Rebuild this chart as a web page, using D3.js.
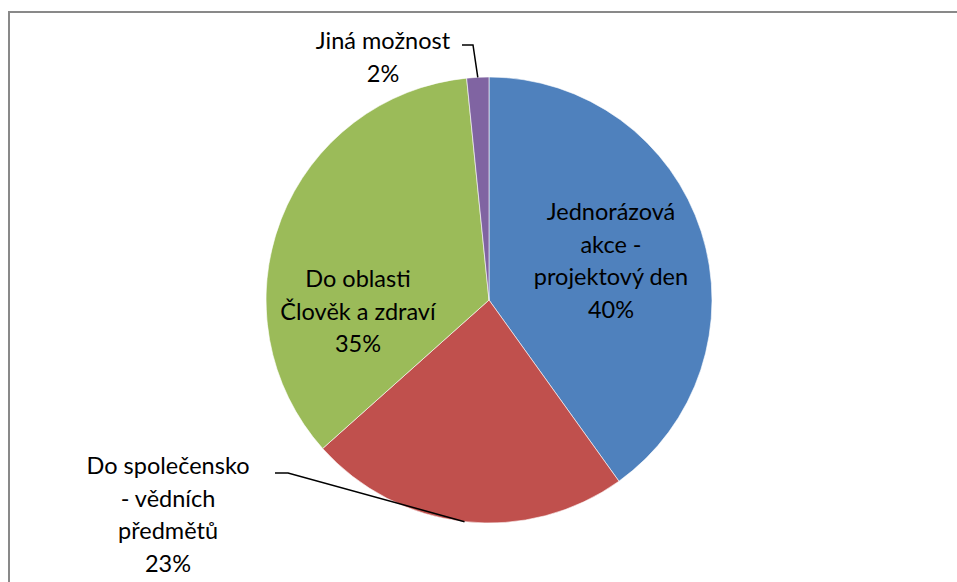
<!DOCTYPE html>
<html>
<head>
<meta charset="utf-8">
<script src="https://cdn.jsdelivr.net/npm/d3@7"></script>
<style>
  html, body { margin: 0; padding: 0; background: #fff; }
  svg { display: block; }
</style>
</head>
<body>
<div id="chart"></div>
<script>
// ── Data ─────────────────────────────────────────────────────────────────────
const categories = [
  ["Jednorázová", "akce -", "projektový den"],
  ["Do společensko", "- vědních", "předmětů"],
  ["Do oblasti", "Člověk a zdraví"],
  ["Jiná možnost"]
];
const values = [40.1, 23.3, 35.0, 1.6];
const colors = ["#4f81bd", "#c0504d", "#9bbb59", "#8064a2"];

// ── Layout ───────────────────────────────────────────────────────────────────
const width = 957, height = 582;
const cx = 489, cy = 300, radius = 223;
const lineH = 32.5;
const fontFamily = "Lato, 'Open Sans', sans-serif";
const fontSize = "23.5px";

// label block anchors (centre x, centre y of first line) and leader bends
const labelLayout = [
  { x: 611, y: 212 },
  { x: 168, y: 466, leader: [[275, 473], [288, 473]] },
  { x: 358, y: 279 },
  { x: 383, y: 41, leader: [[462, 45], [473, 45]] }
];

const svg = d3.select("#chart").append("svg")
  .attr("width", width).attr("height", height);

// frame
svg.append("rect")
  .attr("x", 9).attr("y", 12)
  .attr("width", 960).attr("height", 600)
  .attr("fill", "none").attr("stroke", "#898989").attr("stroke-width", 2);

const total = d3.sum(values);
const pie = d3.pie().sort(null).value((d) => d)(values);
const arc = d3.arc().innerRadius(0).outerRadius(radius);

const g = svg.append("g").attr("transform", `translate(${cx},${cy})`);

g.selectAll("path.slice")
  .data(pie)
  .join("path")
  .attr("class", "slice")
  .attr("d", arc)
  .attr("fill", (d, i) => colors[i])
  .attr("stroke", "#fff")
  .attr("stroke-width", 0.6);

// leader lines
pie.forEach((d, i) => {
  const lay = labelLayout[i];
  if (!lay.leader) return;
  const mid = (d.startAngle + d.endAngle) / 2;
  const end = [cx + radius * Math.sin(mid), cy - radius * Math.cos(mid)];
  const pts = [...lay.leader, end];
  svg.append("path")
    .attr("d", d3.line()(pts))
    .attr("fill", "none")
    .attr("stroke", "#000")
    .attr("stroke-width", 1.5);
});

// labels
pie.forEach((d, i) => {
  const lay = labelLayout[i];
  const pct = Math.round((d.value / total) * 100) + "%";
  const lines = [...categories[i], pct];
  const t = svg.append("text")
    .attr("text-anchor", "middle")
    .attr("font-family", fontFamily)
    .attr("font-size", fontSize)
    .attr("fill", "#000");
  lines.forEach((ln, k) => {
    t.append("tspan")
      .attr("x", lay.x)
      .attr("y", lay.y + k * lineH)
      .attr("dy", "0.35em")
      .text(ln);
  });
});
</script>
</body>
</html>
